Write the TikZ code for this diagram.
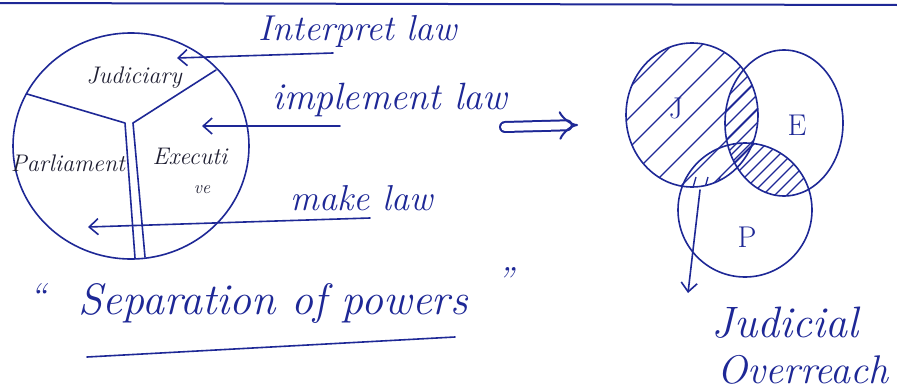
\documentclass[tikz,border=0pt]{standalone}
\usepackage{tikz}
\usetikzlibrary{arrows.meta,positioning,calc}
\definecolor{ink}{RGB}{30,40,150}
\definecolor{pen}{RGB}{30,30,50}
\tikzset{
    stroke/.style={draw=ink, line width=1.6pt, line cap=round, line join=round},
    hand/.style={font=\itshape\fontsize{36}{38}\selectfont, text=ink, inner sep=1pt},
    branch/.style={font=\itshape\fontsize{24}{26}\selectfont, text=pen, inner sep=1pt},
    letter/.style={font=\fontsize{30}{32}\selectfont, text=ink, inner sep=1pt},
    arrow/.style={stroke, -{Straight Barb[length=9pt,width=16pt]}},
    hatch/.style={draw=ink, line width=1.3pt}
}

\begin{document}
\begin{tikzpicture}[x=1pt, y=-1pt]
\useasboundingbox (0,0) rectangle (897,391);
\fill[white] (0,0) rectangle (897,391);

%% cut-off line from the page above
\draw[stroke, line width=2pt] (0,3) -- (897,5);

%% the three organs -- circle split in three
\draw[stroke] (131,146) ellipse [x radius=118, y radius=113];
\draw[stroke] (27,94) -- (125,123) -- (135,258);
\draw[stroke] (216,70) -- (133,123) -- (145,257);

\node[branch] (jud)  at (134,78)  {Judiciary};
\node[branch] (parl) at (68,163)  {Parliament};
\node[branch] (exec) at (190,156) {Executi};
\node[branch, font=\itshape\fontsize{18}{20}\selectfont] (execb) at (202,190) {ve};

%% functions, each pointing into its organ
\node[hand] (interp) at (358,31)  {Interpret law};
\node[hand, font=\itshape\fontsize{38}{40}\selectfont] (impl) at (390,100) {implement law};
\node[hand] (make)   at (362,198) {make law};

\coordinate (i0) at (333,53);  \coordinate (i1) at (177,58);
\coordinate (m0) at (340,126); \coordinate (m1) at (202,126);
\coordinate (k0) at (370,218); \coordinate (k1) at (88,227);
\draw[arrow] (i0) -- (i1);
\draw[arrow] (m0) -- (m1);
\draw[arrow] (k0) -- (k1);

%% title
\node[hand, font=\itshape\fontsize{44}{46}\selectfont] (sep) at (273,303) {Separation of powers};
\node[hand] (q0) at (38,296)  {``};
\node[hand] (q1) at (505,280) {''};
\draw[stroke] (87,357) -- (455,337);

%% leads to
\coordinate (d0) at (505,127); \coordinate (d1) at (578,125);
\draw[stroke, line width=2pt, double=white, double distance=8pt, -{Implies}] (d0) -- (d1);

%% overlapping organs
\coordinate (cj) at (692,115);
\coordinate (ce) at (784,123);
\coordinate (cp) at (745,210);

\begin{scope}
  \clip (cj) ellipse [x radius=66, y radius=72];
  \foreach \k in {-3,...,3}
    \draw[hatch] ($(cj)+(\k*30,0)+(-90,90)$) -- ++(180,-180);
\end{scope}
\begin{scope}
  \clip (ce) ellipse [x radius=59, y radius=73];
  \clip (cj) ellipse [x radius=66, y radius=72];
  \foreach \k in {-6,...,6}
    \draw[hatch] ($(cj)+(45,0)+(\k*14,0)+(-90,90)$) -- ++(180,-180);
\end{scope}
\begin{scope}
  \clip (ce) ellipse [x radius=59, y radius=73];
  \clip (cp) ellipse [x radius=67, y radius=67];
  \foreach \k in {-6,...,6}
    \draw[hatch] ($(740,170)+(\k*12,0)+(-60,60)$) -- ++(120,-120);
\end{scope}
\begin{scope}
  \clip (cj) ellipse [x radius=66, y radius=72];
  \clip (cp) ellipse [x radius=67, y radius=67];
  \foreach \k in {0,...,5}
    \draw[hatch] ($(688,205)+(\k*12,0)$) -- ++(8,-28);
\end{scope}

\draw[stroke] (cj) ellipse [x radius=66, y radius=72];
\draw[stroke] (ce) ellipse [x radius=59, y radius=73];
\draw[stroke] (cp) ellipse [x radius=67, y radius=67];

\node[letter] (lj) at (676,108) {J};
\node[letter] (le) at (797,125) {E};
\node[letter] (lp) at (747,237) {P};

%% overreach of the judiciary
\node[hand, font=\itshape\fontsize{44}{46}\selectfont] (jo1) at (785,323) {Judicial};
\node[hand, font=\itshape\fontsize{40}{42}\selectfont] (jo2) at (803,370) {Overreach};
\coordinate (o0) at (700,190); \coordinate (o1) at (688,293);
\draw[arrow] (o0) -- (o1);

\end{tikzpicture}
\end{document}
